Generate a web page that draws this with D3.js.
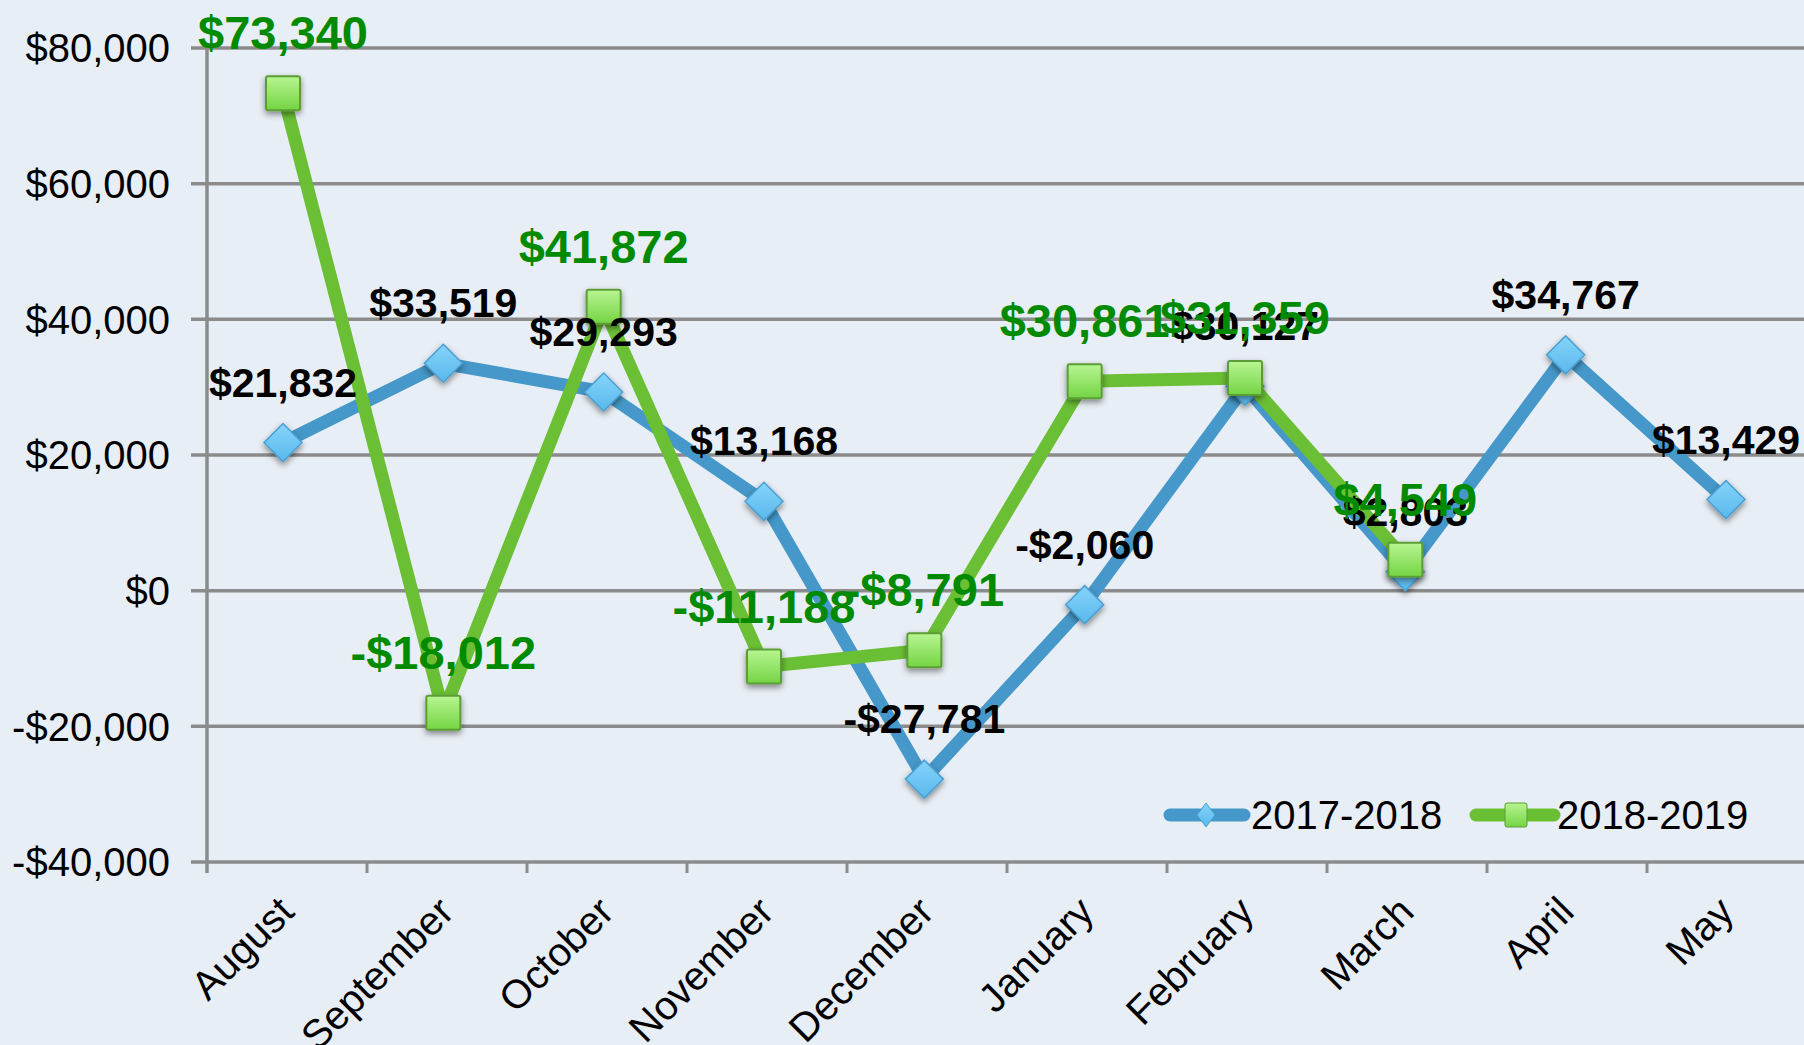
<!DOCTYPE html>
<html>
<head>
<meta charset="utf-8">
<script src="https://cdn.jsdelivr.net/npm/d3@7"></script>
<style>
  html, body { margin: 0; padding: 0; background: #e8eef5; }
  svg { display: block; }
  text { font-family: "Liberation Sans", Arial, Helvetica, sans-serif; }
</style>
</head>
<body>
<svg id="chart" width="1804" height="1045"></svg>
<script>
// ---- Data ----
const months = ["August", "September", "October", "November", "December", "January", "February", "March", "April", "May"];
const values2017 = [21832, 33519, 29293, 13168, -27781, -2060, 30127, 2803, 34767, 13429];
const values2018 = [73340, -18012, 41872, -11188, -8791, 30861, 31359, 4549, null, null];
const yTicks = [-40000, -20000, 0, 20000, 40000, 60000, 80000];
const seriesNames = ["2017-2018", "2018-2019"];

// ---- Layout ----
const W = 1804, H = 1045;
const plotLeft = 207, plotRight = 1807, plotTop = 48, plotBottom = 862;

const svg = d3.select("#chart");
svg.append("rect").attr("width", W).attr("height", H).attr("fill", "#e8eef5");

const defs = svg.append("defs");
const sq = defs.append("linearGradient").attr("id", "gSq").attr("x1", 0).attr("y1", 0).attr("x2", 0).attr("y2", 1);
sq.append("stop").attr("offset", "0%").attr("stop-color", "#b8f592");
sq.append("stop").attr("offset", "100%").attr("stop-color", "#74d444");
const dm = defs.append("linearGradient").attr("id", "gDm").attr("x1", 0).attr("y1", 0).attr("x2", 0).attr("y2", 1);
dm.append("stop").attr("offset", "0%").attr("stop-color", "#84d4fa");
dm.append("stop").attr("offset", "100%").attr("stop-color", "#5ab8ec");
const sh = defs.append("filter").attr("id", "shadow").attr("x", "-50%").attr("y", "-50%").attr("width", "200%").attr("height", "200%");
sh.append("feDropShadow").attr("dx", 0).attr("dy", 3).attr("stdDeviation", 3).attr("flood-color", "#000").attr("flood-opacity", 0.45);

// band scale for the category ticks, point scale for the marks
const x = d3.scaleBand().domain(months).range([plotLeft, plotRight]).padding(0);
const xp = d3.scalePoint().domain(months).range([283, 1726]);
const cx = m => xp(m);
const y = d3.scaleLinear().domain([-40000, 80000]).range([plotBottom, plotTop]);

const fmt = v => (v < 0 ? "-" : "") + "$" + d3.format(",")(Math.abs(v));

// ---- Grid & axes ----
const gridColor = "#8b8b8b";
svg.append("g").selectAll("line").data(yTicks).join("line")
  .attr("x1", plotLeft - 16).attr("x2", W)
  .attr("y1", d => y(d)).attr("y2", d => y(d))
  .attr("stroke", gridColor).attr("stroke-width", 3.5);

svg.append("g").selectAll("text").data(yTicks).join("text")
  .attr("x", 170).attr("y", d => y(d)).attr("dy", "0.36em")
  .attr("text-anchor", "end").attr("font-size", 40).attr("fill", "#000")
  .text(d => fmt(d));

svg.append("line").attr("x1", plotLeft).attr("x2", plotLeft)
  .attr("y1", plotTop).attr("y2", plotBottom + 11)
  .attr("stroke", gridColor).attr("stroke-width", 3.5);

const boundaries = months.map(m => x(m)).concat([plotRight]);
svg.append("g").selectAll("line").data(boundaries.slice(1)).join("line")
  .attr("x1", d => d).attr("x2", d => d)
  .attr("y1", plotBottom).attr("y2", plotBottom + 11)
  .attr("stroke", gridColor).attr("stroke-width", 3);

svg.append("g").selectAll("text").data(months).join("text")
  .attr("transform", d => `translate(${x(d) + x.bandwidth() / 2 + 9},${plotBottom + 52}) rotate(-45)`)
  .attr("text-anchor", "end").attr("font-size", 40).attr("fill", "#000")
  .text(d => d);

// ---- Lines ----
const pts2017 = months.map((m, i) => ({ m, v: values2017[i] }));
const pts2018 = months.map((m, i) => ({ m, v: values2018[i] })).filter(d => d.v !== null);
const line = d3.line().x(d => cx(d.m)).y(d => y(d.v));

const blue = "#4598c9", green = "#6abf34";

svg.append("path").datum(pts2017).attr("d", line)
  .attr("fill", "none").attr("stroke", blue).attr("stroke-width", 13).attr("stroke-linejoin", "round");
const dSize = 19;
svg.append("g").selectAll("path").data(pts2017).join("path")
  .attr("d", d => `M${cx(d.m)},${y(d.v) - dSize}L${cx(d.m) + dSize},${y(d.v)}L${cx(d.m)},${y(d.v) + dSize}L${cx(d.m) - dSize},${y(d.v)}Z`)
  .attr("fill", "url(#gDm)").attr("stroke", "#4a9fd2").attr("stroke-width", 1.5)
  .attr("filter", "url(#shadow)");

svg.append("path").datum(pts2018).attr("d", line)
  .attr("fill", "none").attr("stroke", green).attr("stroke-width", 13).attr("stroke-linejoin", "round");
const sSize = 34;
svg.append("g").selectAll("rect").data(pts2018).join("rect")
  .attr("x", d => cx(d.m) - sSize / 2).attr("y", d => y(d.v) - sSize / 2)
  .attr("width", sSize).attr("height", sSize).attr("rx", 2)
  .attr("fill", "url(#gSq)").attr("stroke", "#5c9e36").attr("stroke-width", 2)
  .attr("filter", "url(#shadow)");

// ---- Data labels ----
svg.append("g").selectAll("text").data(pts2017).join("text")
  .attr("x", d => cx(d.m)).attr("y", d => y(d.v) - 46)
  .attr("text-anchor", "middle").attr("font-size", 41).attr("font-weight", "bold").attr("fill", "#000")
  .text(d => fmt(d.v));

svg.append("g").selectAll("text").data(pts2018).join("text")
  .attr("x", d => cx(d.m)).attr("y", d => y(d.v) - 44)
  .attr("text-anchor", "middle").attr("font-size", 47).attr("font-weight", "bold").attr("fill", "#008a00")
  .text(d => fmt(d.v));

// ---- Legend ----
const leg = svg.append("g");
const legY = 815;
// series 1
leg.append("line").attr("x1", 1170).attr("x2", 1244).attr("y1", legY).attr("y2", legY)
  .attr("stroke", blue).attr("stroke-width", 13).attr("stroke-linecap", "round");
leg.append("path").attr("d", `M1206,${legY - 12}L1215,${legY}L1206,${legY + 12}L1197,${legY}Z`)
  .attr("fill", "url(#gDm)").attr("stroke", "#4a9fd2").attr("stroke-width", 1);
leg.append("text").attr("x", 1251).attr("y", legY).attr("dy", "0.36em")
  .attr("font-size", 40).attr("fill", "#000").text(seriesNames[0]);
// series 2
leg.append("line").attr("x1", 1476).attr("x2", 1554).attr("y1", legY).attr("y2", legY)
  .attr("stroke", green).attr("stroke-width", 13).attr("stroke-linecap", "round");
leg.append("rect").attr("x", 1505).attr("y", legY - 12).attr("width", 22).attr("height", 24).attr("rx", 2)
  .attr("fill", "url(#gSq)").attr("stroke", "#5c9e36").attr("stroke-width", 1);
leg.append("text").attr("x", 1557).attr("y", legY).attr("dy", "0.36em")
  .attr("font-size", 40).attr("fill", "#000").text(seriesNames[1]);
</script>
</body>
</html>
